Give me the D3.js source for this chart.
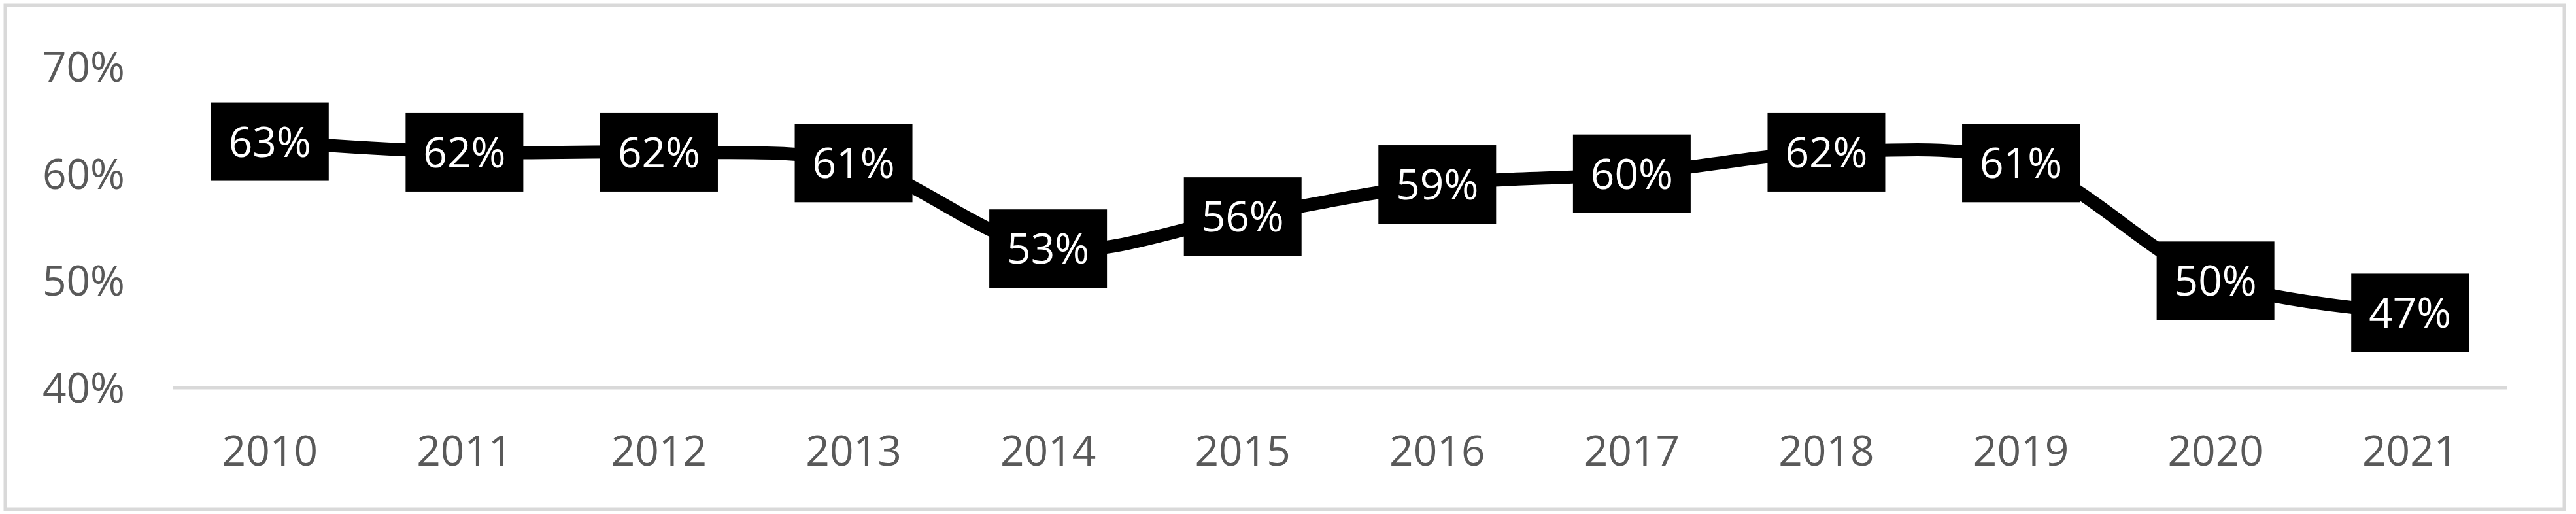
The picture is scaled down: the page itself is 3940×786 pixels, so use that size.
<!DOCTYPE html>
<html><head><meta charset="utf-8">
<script src="https://cdn.jsdelivr.net/npm/d3@7"></script>
<style>body{margin:0;background:#fff}</style></head>
<body><svg id="c" width="3940" height="786"></svg>
<script>
const years = ["2010","2011","2012","2013","2014","2015","2016","2017","2018","2019","2020","2021"];
const values = [63,62,62,61,53,56,59,60,62,61,50,47];
const yTicks = [40,50,60,70];

const svg = d3.select("#c");
const font = "'Open Sans', sans-serif";
svg.append("rect").attr("x",8).attr("y",8).attr("width",3914).attr("height",771)
  .attr("fill","#fff").attr("stroke","#d9d9d9").attr("stroke-width",5);

const x = d3.scaleBand().domain(years).range([264,3835]);
const y = d3.scaleLinear().domain([40,70]).range([593,102]);
const cx = d => x(d) + x.bandwidth()/2;

svg.append("line").attr("x1",264).attr("x2",3835).attr("y1",y(40)).attr("y2",y(40))
  .attr("stroke","#d9d9d9").attr("stroke-width",5);

svg.selectAll(".yt").data(yTicks).join("text")
  .attr("x",191).attr("y",d=>y(d)).attr("dy","0.36em").attr("text-anchor","end")
  .attr("font-family",font).attr("font-size",64).attr("fill","#595959").text(d=>d+"%");

svg.selectAll(".xt").data(years).join("text")
  .attr("x",d=>cx(d)).attr("y",689).attr("dy","0.36em").attr("text-anchor","middle")
  .attr("font-family",font).attr("font-size",64).attr("fill","#595959").text(d=>d);

const pts = years.map((d,i)=>[cx(d), y(values[i])]);
svg.append("path").attr("d", d3.line().curve(d3.curveCatmullRom.alpha(0.5))(pts))
  .attr("fill","none").attr("stroke","#000").attr("stroke-width",20).attr("stroke-linejoin","round");

const g = svg.selectAll(".lab").data(years).join("g");
g.append("rect").attr("x",d=>cx(d)-90).attr("y",(d,i)=>y(values[i])-60)
  .attr("width",180).attr("height",120).attr("fill","#000");
g.append("text").attr("x",d=>cx(d)).attr("y",(d,i)=>y(values[i])).attr("dy","0.36em")
  .attr("text-anchor","middle").attr("font-family",font).attr("font-size",64).attr("fill","#fff")
  .text((d,i)=>values[i]+"%");
</script></body></html>
